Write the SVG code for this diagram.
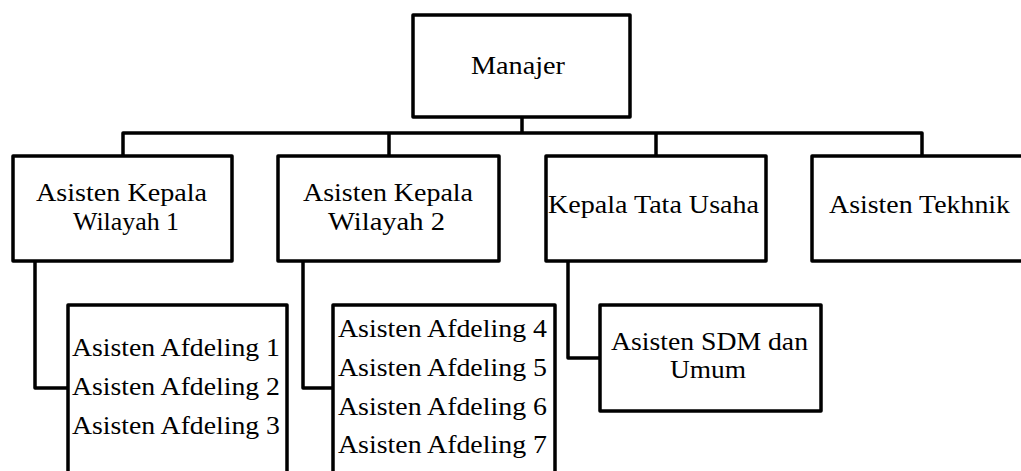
<svg xmlns="http://www.w3.org/2000/svg" width="1021" height="471" viewBox="0 0 1021 471">
<style>
.box{fill:#fff;stroke:#000;stroke-width:3.5;stroke-linejoin:round}
.ln{fill:none;stroke:#000;stroke-width:3.5;stroke-linejoin:round}
text{font-family:"Liberation Serif","Times New Roman",serif;font-size:25px;fill:#000}
</style>
<rect width="1021" height="471" fill="#fff"/>
<g id="connectors">
<path class="ln" d="M522 117V133M123 156V133H922V156M389 133V156M656 133V156"/>
<path class="ln" d="M35 261V388H68"/>
<path class="ln" d="M303 261V388H333"/>
<path class="ln" d="M568 261V358H600"/>
</g>
<g id="manajer">
<rect class="box" x="413" y="15" width="217" height="102"/>
<text x="471" y="74" textLength="94" lengthAdjust="spacingAndGlyphs">Manajer</text>
</g>
<g id="akw1">
<rect class="box" x="13" y="156" width="219" height="105"/>
<text x="36" y="201" textLength="171" lengthAdjust="spacingAndGlyphs">Asisten Kepala</text>
<text x="73" y="230" textLength="106" lengthAdjust="spacingAndGlyphs">Wilayah 1</text>
</g>
<g id="akw2">
<rect class="box" x="278" y="156" width="221" height="105"/>
<text x="303" y="201" textLength="170" lengthAdjust="spacingAndGlyphs">Asisten Kepala</text>
<text x="328" y="230" textLength="117" lengthAdjust="spacingAndGlyphs">Wilayah 2</text>
</g>
<g id="ktu">
<rect class="box" x="546" y="156" width="220" height="105"/>
<text x="548" y="213" textLength="211" lengthAdjust="spacingAndGlyphs">Kepala Tata Usaha</text>
</g>
<g id="tekhnik">
<rect class="box" x="812" y="156" width="218" height="105"/>
<text x="829" y="213" textLength="181" lengthAdjust="spacingAndGlyphs">Asisten Tekhnik</text>
</g>
<g id="afd123">
<rect class="box" x="68" y="305" width="219" height="175"/>
<text x="72" y="356" textLength="208" lengthAdjust="spacingAndGlyphs">Asisten Afdeling 1</text>
<text x="72" y="395" textLength="208" lengthAdjust="spacingAndGlyphs">Asisten Afdeling 2</text>
<text x="72" y="434" textLength="208" lengthAdjust="spacingAndGlyphs">Asisten Afdeling 3</text>
</g>
<g id="afd4567">
<rect class="box" x="333" y="305" width="222" height="175"/>
<text x="338" y="337" textLength="209" lengthAdjust="spacingAndGlyphs">Asisten Afdeling 4</text>
<text x="338" y="376" textLength="209" lengthAdjust="spacingAndGlyphs">Asisten Afdeling 5</text>
<text x="338" y="415" textLength="209" lengthAdjust="spacingAndGlyphs">Asisten Afdeling 6</text>
<text x="338" y="453" textLength="209" lengthAdjust="spacingAndGlyphs">Asisten Afdeling 7</text>
</g>
<g id="sdm">
<rect class="box" x="600" y="305" width="221" height="106"/>
<text x="611" y="350" textLength="197" lengthAdjust="spacingAndGlyphs">Asisten SDM dan</text>
<text x="670" y="378" textLength="76" lengthAdjust="spacingAndGlyphs">Umum</text>
</g>
</svg>
